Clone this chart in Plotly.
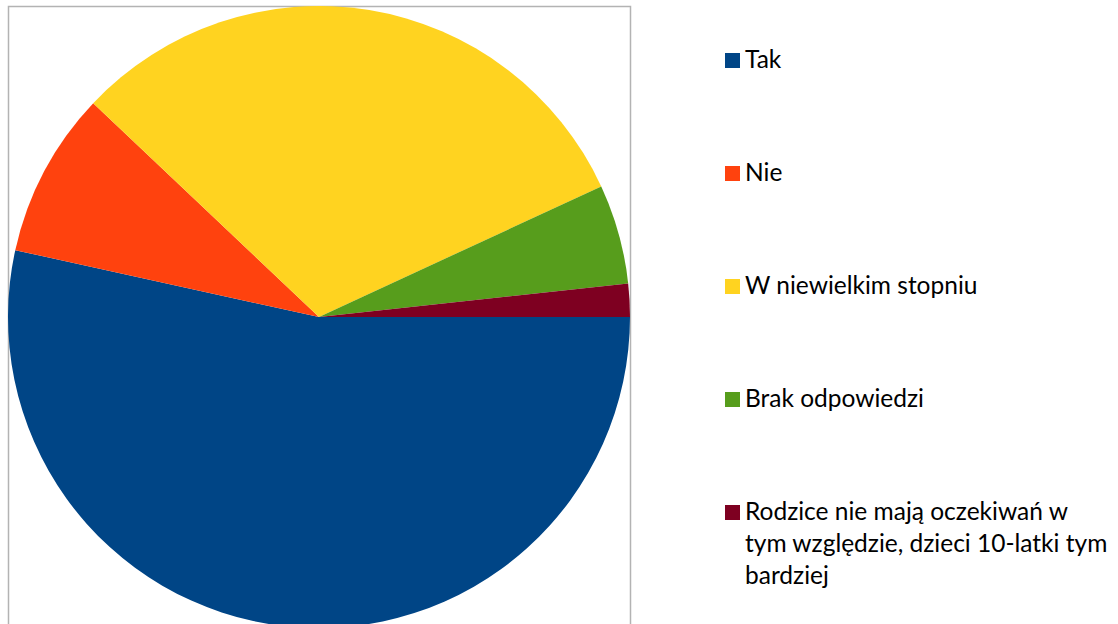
import plotly.graph_objects as go

labels = ["Tak", "Nie", "W niewielkim stopniu", "Brak odpowiedzi",
          "Rodzice nie mają oczekiwań w<br>tym względzie, dzieci 10-latki tym<br>bardziej"]
values = [31, 5, 18, 3, 1]
colors = ["#004586", "#ff420e", "#ffd320", "#579d1c", "#7e0021"]

W, H = 1118, 634

def px_x(p):
    return p / W

def px_y(p):
    return 1 - p / H

fig = go.Figure()
fig.add_trace(go.Pie(
    labels=labels, values=values, sort=False, direction="clockwise", rotation=90,
    marker=dict(colors=colors, line=dict(width=0)),
    textinfo="none", hoverinfo="label+value+percent",
    domain=dict(x=[px_x(8), px_x(630)], y=[px_y(628), px_y(6)]),
    showlegend=False,
))

shapes = [dict(type="path", xref="paper", yref="paper",
               path=f"M {px_x(8.5)} {px_y(640)} L {px_x(8.5)} {px_y(6.5)} L {px_x(630.5)} {px_y(6.5)} L {px_x(630.5)} {px_y(640)}",
               line=dict(color="#b3b3b3", width=1.5), layer="below")]
annotations = []
font = dict(family="Lato, Carlito, sans-serif", size=24.5, color="#000000")
row0, gap = 60.5, 113
for i, (lab, col) in enumerate(zip(labels, colors)):
    yc = row0 + i * gap
    shapes.append(dict(type="rect", xref="paper", yref="paper",
                       x0=px_x(725), x1=px_x(740), y0=px_y(yc + 7.5), y1=px_y(yc - 7.5),
                       fillcolor=col, line=dict(width=0)))
    annotations.append(dict(xref="paper", yref="paper", x=px_x(743), y=px_y(yc - 18.8),
                            xanchor="left", yanchor="top", align="left", showarrow=False,
                            text=lab, font=font))

fig.update_layout(
    width=W, height=H, autosize=False,
    margin=dict(l=0, r=0, t=0, b=0),
    paper_bgcolor="white", plot_bgcolor="white",
    shapes=shapes, annotations=annotations,
)
fig.write_html("out.html", config={"displayModeBar": False},
               post_script="document.body.style.margin='0px';")
